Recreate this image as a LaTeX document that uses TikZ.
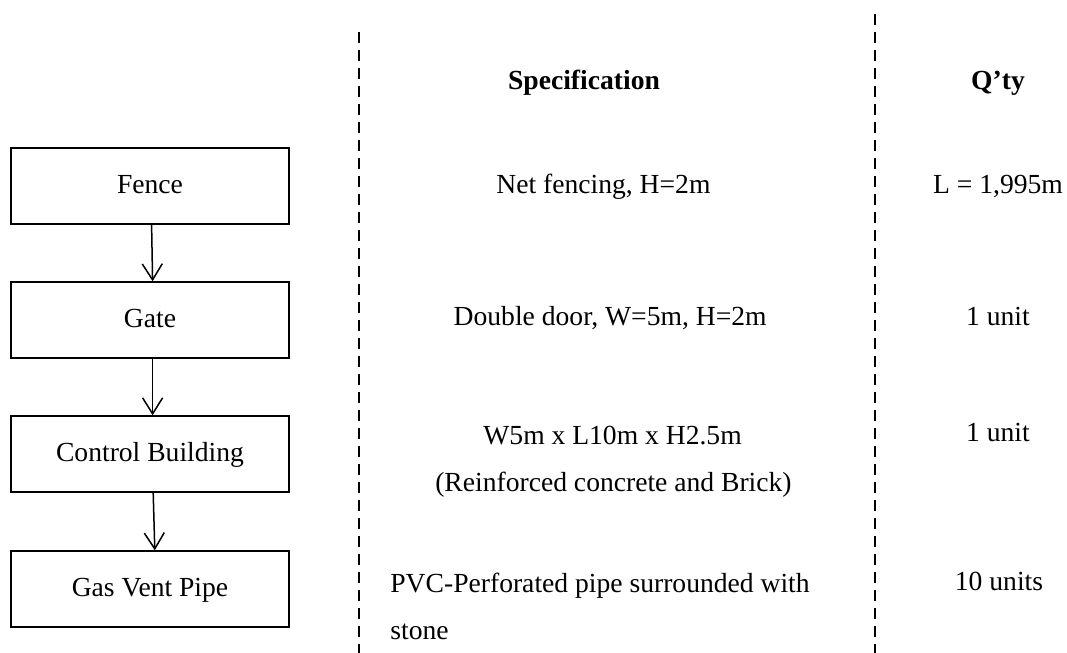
\documentclass[tikz,border=0pt]{standalone}
\usepackage{fontspec}
\setmainfont{Liberation Serif}
\usetikzlibrary{arrows.meta}

\tikzset{
  stepbox/.style={draw, line width=0.75pt, minimum width=139pt, minimum height=38pt,
    inner sep=0pt, text height=9.5pt, text depth=2.5pt, font=\body},
  flow/.style={line width=0.75pt, -{Straight Barb[length=8pt, width=10pt, line width=0.75pt]}},
  divider/.style={line width=1.3pt, dash pattern=on 5.5pt off 3.5pt},
  cell/.style={inner sep=0pt, font=\body},
  head/.style={inner sep=0pt, font=\body\bfseries}
}
\newcommand{\body}{\fontsize{13.8}{16.5}\selectfont}

\begin{document}
\begin{tikzpicture}[x=0.5pt, y=-0.5pt]
  \useasboundingbox (0,0) rectangle (1067,653);

  % column dividers
  \coordinate (d1top) at (359,32);
  \coordinate (d1bot) at (359,653);
  \coordinate (d2top) at (875,14);
  \coordinate (d2bot) at (875,653);
  \draw[divider] (d1top) -- (d1bot);
  \draw[divider] (d2top) -- (d2bot);

  % process boxes
  \node[stepbox] (fence) at (150,186) {Fence};
  \node[stepbox] (gate)  at (150,320) {Gate};
  \node[stepbox] (ctrl)  at (150,454) {Control Building};
  \node[stepbox] (vent)  at (150,589) {Gas Vent Pipe};

  \draw[flow] ([xshift=0.8pt]fence.south) -- ([xshift=1.3pt]gate.north);
  \draw[flow] ([xshift=1.3pt]gate.south) -- ([xshift=1.3pt]ctrl.north);
  \draw[flow] ([xshift=1.6pt]ctrl.south) -- ([xshift=2.4pt]vent.north);

  % headers
  \node[head, anchor=base] (hspec) at (584,90) {Specification};
  \node[head, anchor=base] (hqty)  at (998,90) {Q’ty};

  % specification column
  \node[cell, anchor=base west] (s1)  at (496,193) {Net fencing, H=2m};
  \node[cell, anchor=base east] (s2)  at (767,325) {Double door, W=5m, H=2m};
  \node[cell, anchor=base west] (s3a) at (483,444) {W5m x L10m x H2.5m};
  \node[cell, anchor=base east] (s3b) at (792,491) {(Reinforced concrete and Brick)};
  \node[cell, anchor=base west] (s4a) at (390,592) {PVC-Perforated pipe surrounded with};
  \node[cell, anchor=base west] (s4b) at (390,639) {stone};

  % quantity column
  \node[cell, anchor=base] (q1) at (998,193) {L = 1,995m};
  \node[cell, anchor=base] (q2) at (998,325) {1 unit};
  \node[cell, anchor=base] (q3) at (998,441) {1 unit};
  \node[cell, anchor=base] (q4) at (999,590) {10 units};
\end{tikzpicture}
\end{document}
